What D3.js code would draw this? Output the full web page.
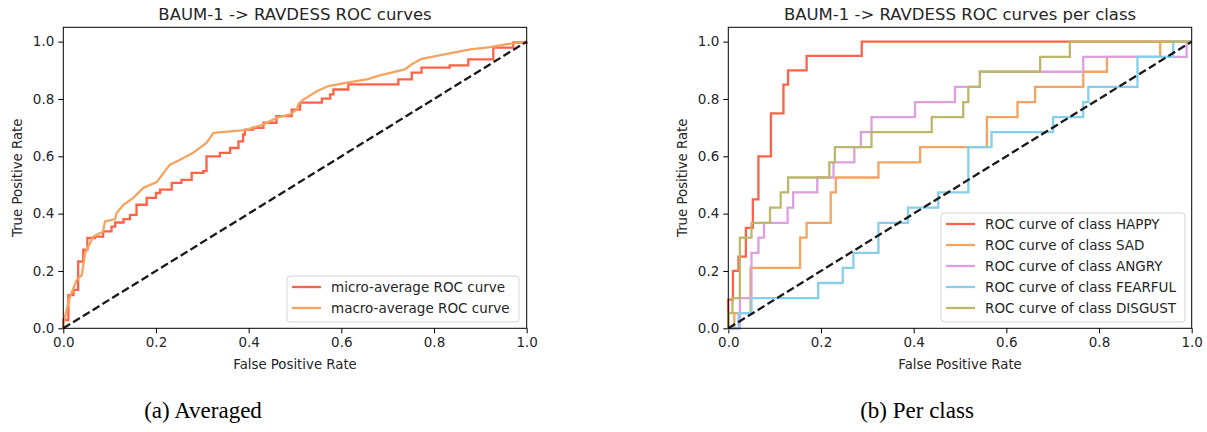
<!DOCTYPE html>
<html>
<head>
<meta charset="utf-8">
<script src="https://cdn.jsdelivr.net/npm/d3@7"></script>
<style>
  body { margin: 0; background: #fff; }
  svg { display: block; }
  text { font-family: "DejaVu Sans", sans-serif; fill: #262626; }
  .caption { font-family: "Liberation Serif", "DejaVu Serif", serif; fill: #000; }
</style>
</head>
<body>
<svg id="fig" width="1207" height="432"></svg>
<script>
// tick labels shared by both panels
const tickValues = [0, 0.2, 0.4, 0.6, 0.8, 1.0];

// (a) averaged curves
const microFpr = [0, 0, 0.011, 0.022, 0.032, 0.043, 0.052, 0.068, 0.086, 0.104, 0.112, 0.13, 0.144, 0.158, 0.18, 0.2, 0.209, 0.234, 0.255, 0.277, 0.302, 0.309, 0.338, 0.36, 0.378, 0.388, 0.392, 0.41, 0.432, 0.46, 0.493, 0.511, 0.558, 0.576, 0.583, 0.615, 0.723, 0.752, 0.773, 0.834, 0.874, 0.928, 0.971, 1];
const microTpr = [0, 0.029, 0.116, 0.134, 0.233, 0.274, 0.315, 0.32, 0.338, 0.355, 0.369, 0.381, 0.396, 0.431, 0.455, 0.472, 0.484, 0.507, 0.518, 0.542, 0.548, 0.6, 0.612, 0.629, 0.652, 0.676, 0.693, 0.699, 0.717, 0.74, 0.763, 0.787, 0.801, 0.816, 0.833, 0.851, 0.868, 0.892, 0.909, 0.917, 0.938, 0.979, 0.997, 1];

const macroFpr = [0, 0, 0.0145, 0.029, 0.04, 0.047, 0.054, 0.065, 0.086, 0.09, 0.112, 0.115, 0.13, 0.151, 0.173, 0.2015, 0.23, 0.252, 0.28, 0.309, 0.324, 0.392, 0.432, 0.46, 0.489, 0.504, 0.507, 0.518, 0.547, 0.572, 0.612, 0.655, 0.683, 0.737, 0.752, 0.773, 0.806, 0.878, 0.921, 0.957, 1];
const macroTpr = [0, 0.017, 0.11, 0.169, 0.186, 0.262, 0.285, 0.32, 0.338, 0.373, 0.381, 0.402, 0.431, 0.455, 0.49, 0.51, 0.571, 0.588, 0.612, 0.647, 0.682, 0.691, 0.711, 0.734, 0.746, 0.763, 0.781, 0.798, 0.827, 0.845, 0.857, 0.868, 0.882, 0.903, 0.921, 0.94, 0.95, 0.973, 0.981, 0.991, 1];

// (b) per class curves
const classNames = ['HAPPY', 'SAD', 'ANGRY', 'FEARFUL', 'DISGUST'];

const happyFpr = [0, 0, 0.01, 0.01, 0.022, 0.022, 0.038, 0.038, 0.053, 0.053, 0.065, 0.065, 0.092, 0.092, 0.119, 0.119, 0.129, 0.129, 0.169, 0.169, 0.288, 0.288, 1];
const happyTpr = [0, 0.1, 0.1, 0.2, 0.2, 0.25, 0.25, 0.35, 0.35, 0.45, 0.45, 0.6, 0.6, 0.75, 0.75, 0.85, 0.85, 0.9, 0.9, 0.95, 0.95, 1, 1];

const sadFpr = [0, 0.013, 0.013, 0.048, 0.048, 0.155, 0.155, 0.169, 0.169, 0.221, 0.221, 0.232, 0.232, 0.324, 0.324, 0.414, 0.414, 0.558, 0.558, 0.624, 0.624, 0.662, 0.662, 0.766, 0.766, 0.817, 0.817, 0.932, 0.932, 1];
const sadTpr = [0, 0, 0.053, 0.053, 0.211, 0.211, 0.316, 0.316, 0.368, 0.368, 0.474, 0.474, 0.526, 0.526, 0.579, 0.579, 0.632, 0.632, 0.737, 0.737, 0.789, 0.789, 0.842, 0.842, 0.895, 0.895, 0.947, 0.947, 1, 1];

const angryFpr = [0, 0.025, 0.025, 0.05, 0.05, 0.065, 0.065, 0.077, 0.077, 0.128, 0.128, 0.14, 0.14, 0.192, 0.192, 0.227, 0.227, 0.272, 0.272, 0.286, 0.286, 0.309, 0.309, 0.403, 0.403, 0.489, 0.489, 0.543, 0.543, 0.766, 0.766, 0.989, 0.989, 1];
const angryTpr = [0, 0, 0.105, 0.105, 0.263, 0.263, 0.316, 0.316, 0.368, 0.368, 0.421, 0.421, 0.474, 0.474, 0.526, 0.526, 0.579, 0.579, 0.632, 0.632, 0.684, 0.684, 0.737, 0.737, 0.789, 0.789, 0.842, 0.842, 0.895, 0.895, 0.947, 0.947, 1, 1];

const fearfulFpr = [0, 0.022, 0.022, 0.05, 0.05, 0.194, 0.194, 0.247, 0.247, 0.27, 0.27, 0.324, 0.324, 0.388, 0.388, 0.453, 0.453, 0.518, 0.518, 0.568, 0.568, 0.701, 0.701, 0.766, 0.766, 0.777, 0.777, 0.883, 0.883, 0.96, 0.96, 1];
const fearfulTpr = [0, 0, 0.053, 0.053, 0.105, 0.105, 0.158, 0.158, 0.211, 0.211, 0.263, 0.263, 0.368, 0.368, 0.421, 0.421, 0.474, 0.474, 0.632, 0.632, 0.684, 0.684, 0.737, 0.737, 0.789, 0.789, 0.842, 0.842, 0.947, 0.947, 1, 1];

const disgustFpr = [0, 0, 0.009, 0.009, 0.025, 0.025, 0.05, 0.05, 0.09, 0.09, 0.113, 0.113, 0.129, 0.129, 0.218, 0.218, 0.23, 0.23, 0.309, 0.309, 0.439, 0.439, 0.507, 0.507, 0.518, 0.518, 0.543, 0.543, 0.673, 0.673, 0.737, 0.737, 1];
const disgustTpr = [0, 0.053, 0.053, 0.105, 0.105, 0.316, 0.316, 0.368, 0.368, 0.421, 0.421, 0.474, 0.474, 0.526, 0.526, 0.579, 0.579, 0.632, 0.632, 0.684, 0.684, 0.737, 0.737, 0.789, 0.789, 0.842, 0.842, 0.895, 0.895, 0.947, 0.947, 1, 1];

document.addEventListener('DOMContentLoaded', () => {
    const svg = d3.select('#fig');

    const top = 27.3;
    const bottom = 328.3;
    const axWidth = 463.4;
    const lineW = 2.3;

    const zip = (xs, ys) => xs.map((x, i) => [x, ys[i]]);

    function panel(left, title) {
        const x = d3.scaleLinear().domain([0, 1]).range([left, left + axWidth]);
        const y = d3.scaleLinear().domain([0, 1.05]).range([bottom, top]);
        const g = svg.append('g');

        const xAxis = g.append('g')
            .attr('transform', `translate(0,${bottom})`)
            .call(d3.axisBottom(x).tickValues(tickValues).tickFormat(d3.format('.1f')).tickSize(5).tickPadding(4));
        const yAxis = g.append('g')
            .attr('transform', `translate(${left},0)`)
            .call(d3.axisLeft(y).tickValues(tickValues).tickFormat(d3.format('.1f')).tickSize(5).tickPadding(4));
        [xAxis, yAxis].forEach(a => {
            a.select('.domain').remove();
            a.selectAll('line').attr('stroke', '#000').attr('stroke-width', 1);
            a.selectAll('text').attr('font-size', 13.5).attr('fill', '#262626')
                .attr('font-family', '"DejaVu Sans", sans-serif');
        });

        g.append('text')
            .attr('x', left + axWidth / 2).attr('y', 19.5)
            .attr('text-anchor', 'middle').attr('font-size', 16.5)
            .text(title);
        g.append('text')
            .attr('x', left + axWidth / 2).attr('y', 369)
            .attr('text-anchor', 'middle').attr('font-size', 13.3)
            .text('False Positive Rate');
        g.append('text')
            .attr('transform', `translate(${left - 41},${(top + bottom) / 2}) rotate(-90)`)
            .attr('text-anchor', 'middle').attr('font-size', 13.3)
            .text('True Positive Rate');

        const plot = g.append('g');
        return { x, y, g, plot };
    }

    function drawCurve(p, pts, color, curve) {
        p.plot.append('path')
            .datum(pts)
            .attr('fill', 'none')
            .attr('stroke', color)
            .attr('stroke-width', lineW)
            .attr('d', d3.line().x(d => p.x(d[0])).y(d => p.y(d[1])).curve(curve || d3.curveLinear));
    }

    function finish(p) {
        // chance line
        p.plot.append('path')
            .datum([[0, 0], [1, 1]])
            .attr('fill', 'none')
            .attr('stroke', '#1a1a1a')
            .attr('stroke-width', lineW)
            .attr('stroke-dasharray', '8,3.5')
            .attr('d', d3.line().x(d => p.x(d[0])).y(d => p.y(d[1])));
        // frame
        p.g.append('rect')
            .attr('x', p.x(0)).attr('y', top)
            .attr('width', axWidth).attr('height', bottom - top)
            .attr('fill', 'none').attr('stroke', '#000').attr('stroke-width', 1);
    }

    function legend(x0, y0, w, items) {
        const rowH = 21;
        const lg = svg.append('g');
        lg.append('rect')
            .attr('x', x0).attr('y', y0)
            .attr('width', w).attr('height', items.length * rowH + 4)
            .attr('rx', 3)
            .attr('fill', 'rgba(255,255,255,0.85)')
            .attr('stroke', '#d4d4d4');
        items.forEach((it, i) => {
            const cy = y0 + 11 + i * rowH;
            lg.append('line')
                .attr('x1', x0 + 5).attr('x2', x0 + 34)
                .attr('y1', cy).attr('y2', cy)
                .attr('stroke', it.color).attr('stroke-width', lineW);
            lg.append('text')
                .attr('x', x0 + 44).attr('y', cy + 5)
                .attr('font-size', 13.5)
                .text(it.label);
        });
    }

    // (a) averaged
    const a = panel(63.3, 'BAUM-1 -> RAVDESS ROC curves');
    drawCurve(a, zip(microFpr, microTpr), 'tomato', d3.curveStepAfter);
    drawCurve(a, zip(macroFpr, macroTpr), 'sandybrown');
    finish(a);
    legend(287, 276, 232, [
        { label: 'micro-average ROC curve', color: 'tomato' },
        { label: 'macro-average ROC curve', color: 'sandybrown' }
    ]);

    // (b) per class
    const b = panel(728.3, 'BAUM-1 -> RAVDESS ROC curves per class');
    const classColors = ['tomato', 'sandybrown', 'plum', 'skyblue', 'darkkhaki'];
    const classFpr = [happyFpr, sadFpr, angryFpr, fearfulFpr, disgustFpr];
    const classTpr = [happyTpr, sadTpr, angryTpr, fearfulTpr, disgustTpr];
    classNames.forEach((name, i) => {
        drawCurve(b, zip(classFpr[i], classTpr[i]), classColors[i]);
    });
    finish(b);
    legend(941, 213, 244, classNames.map((name, i) => ({
        label: `ROC curve of class ${name}`, color: classColors[i]
    })));

    // subfigure captions
    svg.append('text').attr('class', 'caption')
        .attr('x', 203).attr('y', 418).attr('text-anchor', 'middle').attr('font-size', 23)
        .text('(a) Averaged');
    svg.append('text').attr('class', 'caption')
        .attr('x', 917).attr('y', 418).attr('text-anchor', 'middle').attr('font-size', 23)
        .text('(b) Per class');
});
</script>
</body>
</html>
